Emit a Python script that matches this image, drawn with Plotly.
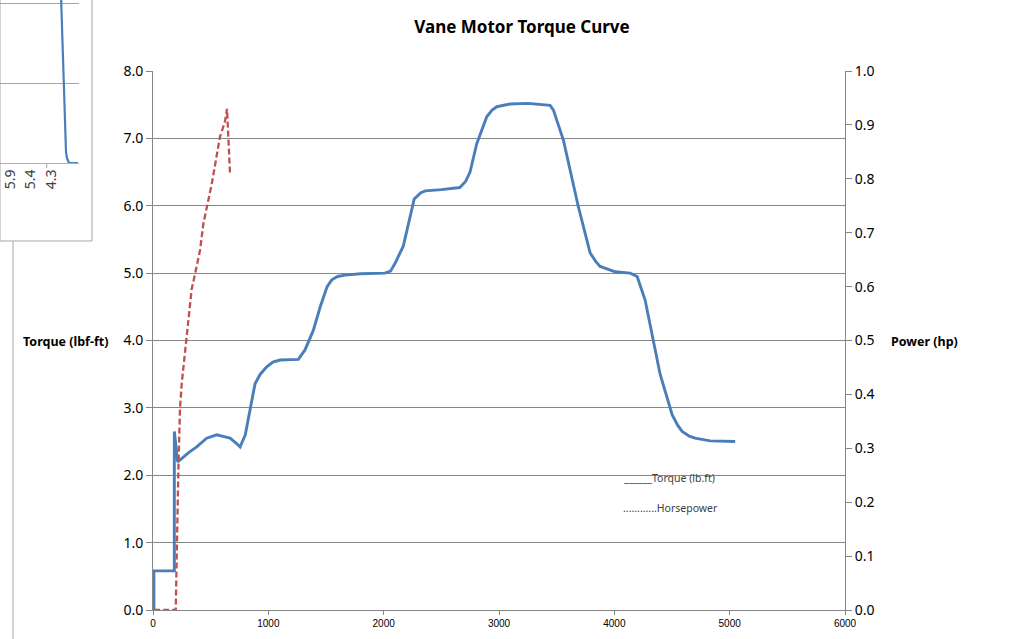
import plotly.graph_objects as go

W, H = 1019, 639

# ---- main data ----
rpm_torque = [8, 8, 185, 185, 214, 263, 320, 379, 465, 552, 668, 725, 755, 800, 841, 885, 930,
              986, 1040, 1101, 1260, 1318, 1390, 1450, 1510, 1550, 1600, 1665, 1800, 2010, 2060,
              2100, 2170, 2265, 2320, 2360, 2500, 2660, 2710, 2749, 2807, 2894, 2940, 2981,
              3096, 3250, 3443, 3472, 3559, 3631, 3686, 3790, 3840, 3877, 4007, 4137, 4198,
              4267, 4397, 4501, 4550, 4588, 4650, 4700, 4831, 5048]
torque = [0, 0.58, 0.58, 2.65, 2.2, 2.27, 2.35, 2.42, 2.55, 2.6, 2.55, 2.47, 2.42, 2.6, 2.97,
          3.36, 3.5, 3.61, 3.68, 3.71, 3.72, 3.86, 4.15, 4.5, 4.8, 4.9, 4.95, 4.97, 4.99, 5.0,
          5.03, 5.15, 5.4, 6.1, 6.19, 6.22, 6.24, 6.27, 6.36, 6.5, 6.92, 7.32, 7.42, 7.47,
          7.51, 7.52, 7.49, 7.42, 6.97, 6.39, 6.0, 5.3, 5.17, 5.1, 5.02, 5.0, 4.95,
          4.6, 3.5, 2.9, 2.74, 2.65, 2.58, 2.55, 2.51, 2.5]

rpm_hp = [10, 180, 197, 220, 234, 249, 286, 335, 364, 408, 437, 509, 581, 624, 642, 655, 668]
horsepower = [0, 0, 0.0, 0.26, 0.373, 0.42, 0.499, 0.595, 0.623, 0.668, 0.717, 0.79, 0.878,
              0.906, 0.93, 0.88, 0.807]

x_ticks = [0, 1000, 2000, 3000, 4000, 5000, 6000]
torque_ticks = [0, 1, 2, 3, 4, 5, 6, 7, 8]
power_ticks = [0, 0.1, 0.2, 0.3, 0.4, 0.5, 0.6, 0.7, 0.8, 0.9, 1.0]

# ---- fragment of another chart (top-left) ----
inset_x = [6.1, 6.6, 6.7, 6.9, 7.8]
inset_y = [2.1, 0.14, 0.06, 0.0, 0.0]
inset_tickvals = [1.0, 3.0, 5.1]
inset_ticktext = ["5.9", "5.4", "4.3"]

GRID = "#868686"
BLUE = "#4a7ebb"
RED = "#c0504d"
FONT = "Noto Sans, Open Sans, sans-serif"
NARROW = "Liberation Sans Narrow, Liberation Sans, Arial Narrow, sans-serif"

def px_x(p):
    return p / W

def px_y(p):
    return 1 - p / H

fig = go.Figure()
fig.add_trace(go.Scatter(x=rpm_torque, y=torque, mode="lines", name="Torque (lb.ft)",
                         line=dict(color=BLUE, width=2.9), xaxis="x", yaxis="y"))
fig.add_trace(go.Scatter(x=rpm_hp, y=horsepower, mode="lines", name="Horsepower",
                         line=dict(color=RED, width=2.3, dash="6px,3px"), xaxis="x", yaxis="y2"))
fig.add_trace(go.Scatter(x=inset_x, y=inset_y, mode="lines", showlegend=False,
                         line=dict(color=BLUE, width=2.2), xaxis="x3", yaxis="y3"))

fig.update_layout(
    width=W, height=H,
    margin=dict(l=0, r=0, t=0, b=0, autoexpand=False),
    paper_bgcolor="white", plot_bgcolor="white",
    showlegend=False,
    font=dict(family=FONT, color="#000000"),
    xaxis=dict(domain=[px_x(153), px_x(845)], range=[0, 6000], tickvals=x_ticks,
               ticks="outside", ticklen=4, tickcolor=GRID, showline=True, linecolor=GRID,
               showgrid=False, zeroline=False, tickfont=dict(family=NARROW, size=10),
               anchor="y", automargin=False),
    yaxis=dict(domain=[px_y(610), px_y(71)], range=[0, 8], tickvals=torque_ticks,
               tickformat=".1f", ticks="outside", ticklen=6, tickcolor=GRID,
               showline=True, linecolor=GRID, showgrid=True, gridcolor=GRID,
               zeroline=False, tickfont=dict(size=14), anchor="x", automargin=False),
    yaxis2=dict(domain=[px_y(610), px_y(71)], range=[0, 1], tickvals=power_ticks,
                tickformat=".1f", ticks="outside", ticklen=6, tickcolor=GRID,
                showline=True, linecolor=GRID, showgrid=False, zeroline=False,
                overlaying="y", side="right", anchor="x", tickfont=dict(size=14),
                automargin=False),
    xaxis3=dict(domain=[0, px_x(79)], range=[0, 7.9], tickvals=inset_tickvals,
                ticktext=inset_ticktext, tickangle=-90, ticks="", showline=True,
                linecolor="#b0b0b0", showgrid=False, zeroline=False, anchor="y3",
                tickfont=dict(size=14, color="#404040"), automargin=False,
                ticklabeloverflow="allow"),
    yaxis3=dict(domain=[px_y(163), 1], range=[0, 2.0375], dtick=1, showticklabels=False,
                showgrid=True, gridcolor="#a6a6a6", zeroline=False, showline=False,
                anchor="x3", automargin=False),
    title=dict(text="<b>Vane Motor Torque Curve</b>", x=px_x(522), xanchor="center",
               y=px_y(27), yanchor="middle", font=dict(size=17, family=FONT)),
)

annotations = [
    dict(text="<b>Torque (lbf-ft)</b>", x=px_x(110), y=px_y(341), xanchor="right",
         yanchor="middle", font=dict(size=12.5)),
    dict(text="<b>Power (hp)</b>", x=px_x(889), y=px_y(341), xanchor="left",
         yanchor="middle", font=dict(size=12.5)),
    dict(text="______Torque (lb.ft)", x=px_x(621), y=px_y(478), xanchor="left",
         yanchor="middle", font=dict(size=10.5, color="#404040")),
    dict(text="............Horsepower", x=px_x(621), y=px_y(508), xanchor="left",
         yanchor="middle", font=dict(size=10.5, color="#404040")),
]
for a in annotations:
    a.update(xref="paper", yref="paper", showarrow=False)
fig.update_layout(annotations=annotations)

shapes = [
    # border of the partial chart at top-left
    dict(type="rect", x0=0, x1=px_x(92), y0=px_y(241), y1=1.01,
         line=dict(color="#a6a6a6", width=1)),
    # single tick of the partial chart
    dict(type="line", x0=px_x(46.7), x1=px_x(46.7), y0=px_y(163), y1=px_y(168),
         line=dict(color="#a6a6a6", width=1)),
    # left frame edge of the main chart
    dict(type="line", x0=px_x(13), x1=px_x(13), y0=px_y(241), y1=-0.01,
         line=dict(color="#a6a6a6", width=1)),
]
for s in shapes:
    s.update(xref="paper", yref="paper", layer="above")
fig.update_layout(shapes=shapes)

fig.write_html("out.html", config={"displayModeBar": False},
               post_script="document.body.style.margin='0';")
